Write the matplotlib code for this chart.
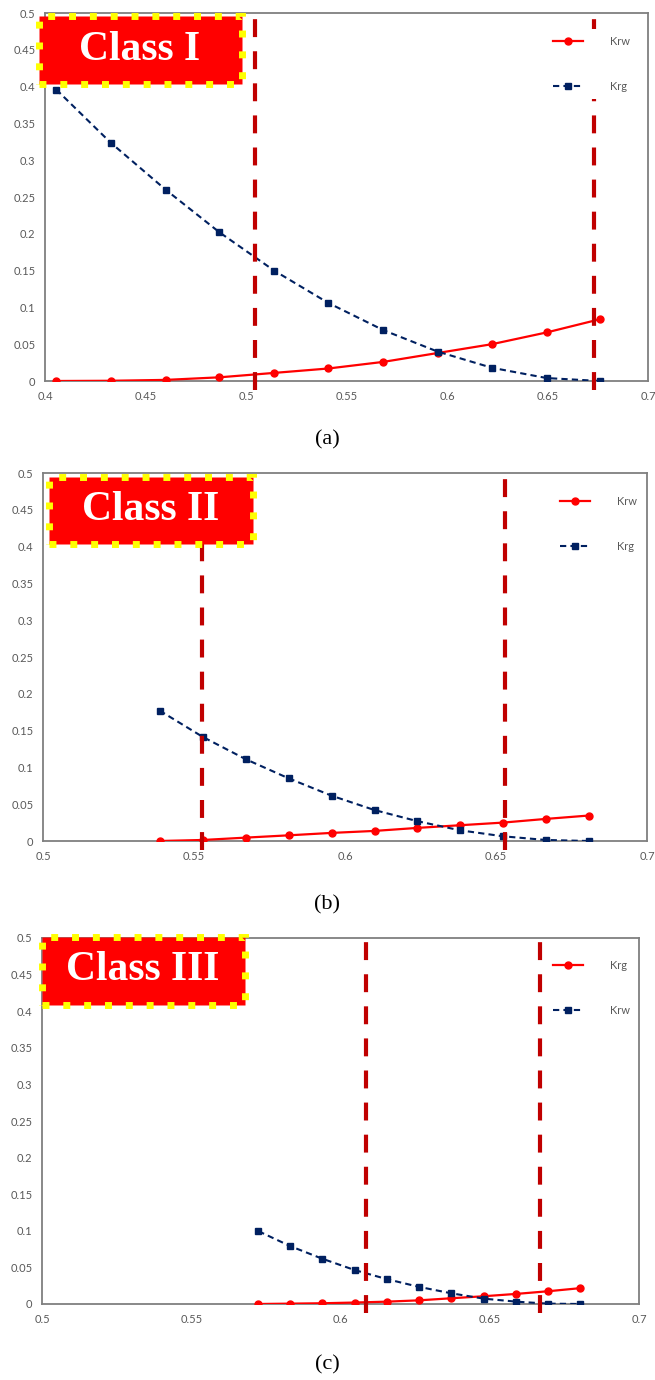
import matplotlib
matplotlib.use('Agg')
import matplotlib.pyplot as plt
from matplotlib.patches import Rectangle
from matplotlib.ticker import MultipleLocator, FuncFormatter

plt.rcParams['font.family'] = ['Lato', 'DejaVu Sans']

# (a) Class I
sw_a = [0.4056, 0.4326, 0.4600, 0.4868, 0.5140, 0.5410, 0.5684, 0.5953, 0.6223, 0.6496, 0.6762]
krw_a = [0.0, 0.0003, 0.0015, 0.005, 0.011, 0.017, 0.026, 0.038, 0.050, 0.066, 0.084]
krg_a = [0.396, 0.324, 0.260, 0.202, 0.150, 0.106, 0.069, 0.040, 0.018, 0.004, 0.0]
cut_a = [0.5045, 0.6731]

# (b) Class II
sw_b = [0.5386, 0.5530, 0.5672, 0.5813, 0.5956, 0.6098, 0.6240, 0.6380, 0.6523, 0.6665, 0.6807]
krw_b = [0.0, 0.0014, 0.0046, 0.0077, 0.011, 0.0137, 0.0178, 0.0214, 0.025, 0.030, 0.0346]
krg_b = [0.1772, 0.1412, 0.111, 0.0852, 0.0615, 0.042, 0.0269, 0.0146, 0.0064, 0.0014, 0.0]
cut_b = [0.5525, 0.6529]

# (c) Class III  (legend labels are swapped in the original)
sw_c = [0.5725, 0.5832, 0.5938, 0.6048, 0.6155, 0.6263, 0.6370, 0.6480, 0.6589, 0.6695, 0.6802]
red_c = [0.0, 0.0005, 0.001, 0.002, 0.0032, 0.005, 0.0078, 0.0106, 0.0138, 0.0174, 0.0216]
blue_c = [0.0995, 0.079, 0.062, 0.0463, 0.034, 0.0234, 0.0147, 0.0073, 0.0032, 0.0005, 0.0]
cut_c = [0.6084, 0.6668]

W, H = 655, 1380
fig = plt.figure(figsize=(W / 100, H / 100), dpi=100)


def fx(px):
    return px / W


def fy(py):
    return 1 - py / H


def panel(box, xlim, x, red, blue, red_lab, blue_lab, cuts, cls, clsbox, leg_xy, cap, cap_y):
    l, t, r, b = box
    ax = fig.add_axes([fx(l), fy(b), fx(r - l), (b - t) / H])
    ax.plot(x, red, color='#FF0000', lw=1.6, marker='o', ms=5, label=red_lab, zorder=3)
    ax.plot(x, blue, color='#002060', lw=1.5, dashes=(3, 2), marker='s', ms=5,
            label=blue_lab, zorder=3)
    for c in cuts:
        ax.axvline(c, ymin=-0.025, ymax=1.015, color='#C00000', lw=3,
                   dashes=(4.3, 3.4), clip_on=False, zorder=4)
    ax.set_xlim(*xlim)
    ax.set_ylim(0, 0.5)
    ax.xaxis.set_major_locator(MultipleLocator(0.05))
    ax.yaxis.set_major_locator(MultipleLocator(0.05))
    fmt = FuncFormatter(lambda v, _: f'{v:g}')
    ax.xaxis.set_major_formatter(fmt)
    ax.yaxis.set_major_formatter(fmt)
    ax.tick_params(length=0, pad=7, labelsize=8, labelcolor='#595959')
    for s in ax.spines.values():
        s.set_color('#7F7F7F')
        s.set_linewidth(1.3)
    leg = ax.legend(loc='upper left', bbox_to_anchor=(fx(leg_xy[0]), fy(leg_xy[1])),
                    bbox_transform=fig.transFigure, fontsize=8, labelcolor='#595959',
                    handlelength=2.7, handletextpad=2.5, labelspacing=3.1,
                    borderpad=0.6, borderaxespad=0, frameon=True, fancybox=False,
                    facecolor='white', edgecolor='none', framealpha=1)
    leg.set_zorder(5)

    # class label box
    x0, y0, x1, y1 = clsbox
    fig.add_artist(Rectangle((fx(x0), fy(y1)), fx(x1 - x0), (y1 - y0) / H,
                             transform=fig.transFigure, facecolor='#FF0000',
                             edgecolor='#FFFF00', lw=5, linestyle=(0, (1, 2)), zorder=10))
    fig.text(fx((x0 + x1) / 2), fy((y0 + y1) / 2), cls, ha='center', va='center',
             fontsize=30, fontweight='bold', family='Liberation Serif', color='white',
             zorder=11)
    fig.text(fx(327), fy(cap_y), cap, ha='center', va='center', fontsize=16,
             family='Liberation Serif', color='black')


panel((45, 13, 648, 381), (0.4, 0.7), sw_a, krw_a, krg_a, 'Krw', 'Krg', cut_a,
      'Class I', (38.5, 15.5, 241.5, 83.5), (546, 29), '(a)', 440)
panel((43, 473, 647, 841), (0.5, 0.7), sw_b, krw_b, krg_b, 'Krw', 'Krg', cut_b,
      'Class II', (48.5, 476.5, 253.5, 543.5), (553, 489), '(b)', 905)
panel((42, 938, 639, 1304), (0.5, 0.7), sw_c, red_c, blue_c, 'Krg', 'Krw', cut_c,
      'Class III', (41.5, 936.5, 244.5, 1004.5), (546, 953), '(c)', 1365)

# the top panel's tick labels are cut off at the left edge in the original
fig.add_artist(Rectangle((0, fy(370)), fx(14), 340 / H, transform=fig.transFigure,
                         facecolor='white', edgecolor='none', zorder=12))

fig.savefig('out.png', dpi=100)
